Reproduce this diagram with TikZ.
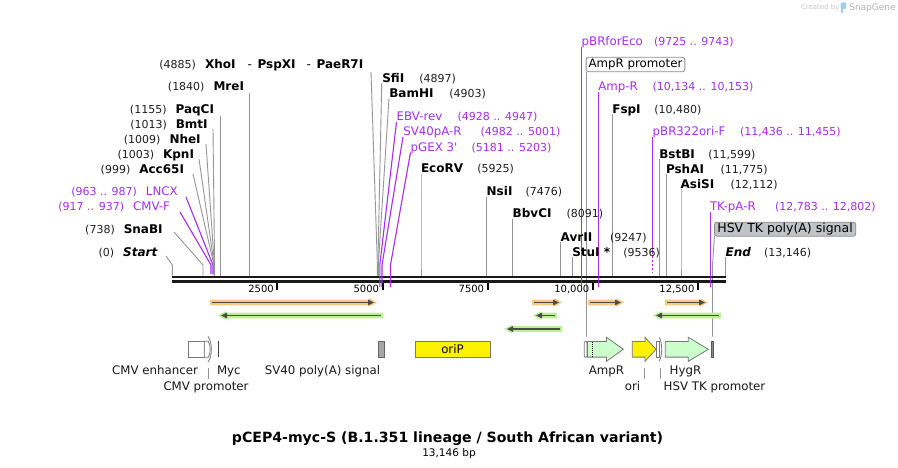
\documentclass[tikz,border=0pt]{standalone}
\usepackage{fontspec}
\setmainfont{DejaVu Sans}
\usetikzlibrary{arrows.meta}
\definecolor{prim}{RGB}{165,45,245}
\definecolor{lgray}{RGB}{150,150,150}
\definecolor{orangeH}{RGB}{250,200,125}
\definecolor{greenH}{RGB}{185,242,150}
\definecolor{darkA}{RGB}{75,75,75}
\definecolor{featG}{RGB}{204,255,204}
\definecolor{polyG}{RGB}{192,195,199}
\definecolor{bordG}{RGB}{120,120,120}
\definecolor{sgGray}{RGB}{200,200,200}
\definecolor{sgBlue}{RGB}{160,205,240}
\newcommand\fN{\fontsize{11}{13}\selectfont}
\newcommand\fE{\fontsize{12}{14}\selectfont\bfseries}
\newcommand\fP{\fontsize{11.8}{14}\selectfont}
\newcommand\sqt{\XeTeXglyph\XeTeXglyphindex "quotesingle"\relax}
\newcommand\mkLd[6]{\coordinate (#1t) at (#3,#4); \coordinate (#1k) at (#5,265); \coordinate (#1e) at (#5,#6); \draw[#2] (#1t) -- (#1k) -- (#1e);}
\newcommand\mkLl[7]{\node[#6, anchor=base east] (#1) at (#4,#5) {#3}; \node[#7, anchor=base east] (#1n) at ([xshift=-9pt]#1.base west) {#2};}
\newcommand\mkRl[8]{\node[#7, anchor=base west] (#1) at (#3,#4) {#2}; \node[#8, anchor=base west] (#1n) at (#6,#4) {#5};}
\newcommand\mkOrf[6]{\coordinate (#1a) at (#3,#5); \coordinate (#1b) at (#4,#5);
  \fill[#2] ({#3},{#5-2.8}) -- ({#4-#6*5},{#5-2.8}) -- ({#4-#6*5},{#5-4.3}) -- ({#4+#6*3},#5) -- ({#4-#6*5},{#5+4.3}) -- ({#4-#6*5},{#5+2.8}) -- ({#3},{#5+2.8}) -- cycle;
  \draw[darkA, line width=1.6pt, -{Triangle[length=6pt,width=5.5pt]}] ([xshift=#6*2pt]#1a) -- (#1b);}
\begin{document}
\begin{tikzpicture}[x=1pt,y=-1pt,
  lbl/.style={inner sep=0pt, outer sep=0pt},
  num/.style={lbl, font=\fN, text=black!88},
  enz/.style={lbl, font=\fE, text=black},
  enzi/.style={lbl, font=\fE\itshape, text=black},
  pri/.style={lbl, font=\fP, text=prim},
  pnum/.style={lbl, font=\fN, text=prim},
  flab/.style={lbl, font=\fP, text=black!90},
  lead/.style={draw=lgray, line width=0.9pt},
  plead/.style={draw=prim, line width=1.1pt},
  feat/.style={draw=bordG, line width=0.8pt},
  ticklab/.style={lbl, font=\fontsize{10}{12}\selectfont, anchor=base east}]
\useasboundingbox (0,0) rectangle (898,468);
\fill[white] (0,0) rectangle (898,468);

% ---- gray leaders ----
\mkLd{ldStart}{lead}{166}{256}{172.3}{275.5}
\mkLd{ldSna}{lead}{174}{232}{203}{275.5}
\mkLd{ldAcc}{lead}{193}{174}{214}{275.5}
\mkLd{ldKpn}{lead}{199}{159}{214.2}{275.5}
\mkLd{ldNhe}{lead}{206}{144}{214.4}{275.5}
\mkLd{ldBmt}{lead}{213}{129}{214.6}{275.5}
\mkLd{ldPaq}{lead}{220.6}{116}{220.6}{275.5}
\mkLd{ldMre}{lead}{249.4}{93}{249.4}{275.5}
\mkLd{ldXho}{lead}{371}{72}{377.4}{275.5}
\mkLd{ldSfi}{lead}{381.7}{83.5}{377.9}{275.5}
\mkLd{ldBam}{lead}{389}{98.5}{378.3}{275.5}
\mkLd{ldEco}{lead}{421}{174}{421}{275.5}
\mkLd{ldNsi}{lead}{486.7}{197}{486.7}{275.5}
\mkLd{ldBbv}{lead}{512.7}{219}{512.7}{275.5}
\mkLd{ldAvr}{lead}{560.8}{242}{560.8}{275.5}
\mkLd{ldStu}{lead}{572.5}{257}{572.5}{275.5}
\mkLd{ldFsp}{lead}{612.5}{114}{612.5}{275.5}
\mkLd{ldBst}{lead}{659.5}{159}{659.5}{275.5}
\mkLd{ldPsh}{lead}{666.5}{174}{666.5}{275.5}
\mkLd{ldAsi}{lead}{681}{189}{681}{275.5}
\mkLd{ldEnd}{lead}{725.7}{257}{725.7}{275.5}
% callout leaders
\coordinate (ampPt) at (586.7,71.7);
\coordinate (ampPb) at (586.7,336.7);
\draw[lead] (ampPt) -- (ampPb);
\coordinate (hsvAt) at (714.5,236);
\coordinate (hsvAk) at (712.5,265);
\coordinate (hsvAb) at (712.5,336.7);
\draw[lead] (hsvAt) -- (hsvAk) -- (hsvAb);
% feature label leaders
\coordinate (cmvPt) at (208.3,368); \coordinate (cmvPb) at (208.3,379.3);
\draw[draw=lgray, line width=0.8pt] (cmvPt) -- (cmvPb);
\coordinate (oriLt) at (644.3,368); \coordinate (oriLb) at (644.3,379.3);
\draw[draw=lgray, line width=0.8pt] (oriLt) -- (oriLb);
\coordinate (hsvPt) at (660.7,368); \coordinate (hsvPb) at (660.7,379.3);
\draw[draw=lgray, line width=0.8pt] (hsvPt) -- (hsvPb);

% ---- backbone ----
\coordinate (bbL1) at (172.3,277); \coordinate (bbR1) at (725.7,277);
\coordinate (bbL2) at (172.3,281.5); \coordinate (bbR2) at (725.7,281.5);
\draw[line width=2.7pt, black!90] (bbL1) -- (bbR1);
\draw[line width=2.3pt, black!90] (bbL2) -- (bbR2);

% ---- purple primer leaders ----
\mkLd{ldCmvf}{plead}{180}{212}{211}{274}
\mkLd{ldLncx}{plead}{186}{197}{213}{274}
\mkLd{ldEbv}{plead}{396.5}{122}{379.8}{287}
\mkLd{ldSv}{plead}{403}{137}{382}{287}
\mkLd{ldGex}{plead}{410.5}{152.5}{390.5}{287}
\mkLd{ldPbr}{plead}{581.5}{47}{581.5}{287}
\mkLd{ldAmpr}{plead}{598.5}{92}{598.5}{287}
\mkLd{ldTk}{plead}{710.5}{212}{710.5}{287}
\coordinate (oriFt) at (652.6,137); \coordinate (oriFk) at (652.6,252); \coordinate (oriFe) at (652.6,273);
\draw[plead] (oriFt) -- (oriFk);
\draw[plead, dash pattern=on 2pt off 2pt] (oriFk) -- (oriFe);

% ---- ticks ----
\foreach \tx/\tl [count=\i] in {277.3/2500, 382.5/5000, 487.6/7500, 592.8/{10,000}, 697.9/{12,500}}{
  \coordinate (tk\i a) at (\tx,283); \coordinate (tk\i b) at (\tx,290);
  \draw[line width=2pt, black] (tk\i a) -- (tk\i b);
  \node[ticklab] (tkl\i) at (\tx-3.5,292.7) {\tl};
}

% ---- ORF arrows ----
\mkOrf{o1}{orangeH}{210}{374}{302.5}{1}
\mkOrf{g1}{greenH}{383}{221}{315.5}{-1}
\mkOrf{g2}{greenH}{562}{507}{329}{-1}
\mkOrf{o2}{orangeH}{532}{559}{302.5}{1}
\mkOrf{g3}{greenH}{557}{536}{315.5}{-1}
\mkOrf{o3}{orangeH}{588}{621}{302.5}{1}
\mkOrf{o4}{orangeH}{665}{705}{302.5}{1}
\mkOrf{g4}{greenH}{721}{656}{315.5}{-1}

% ---- features ----
\draw[feat, fill=white] (188.3,341.3) rectangle (204.3,357.3);
\draw[feat, fill=white] (204.3,341.3) -- (208.3,341.3) .. controls (210.8,345) and (210.8,353.6) .. (208.3,357.3) -- (204.3,357.3) -- cycle;
\draw[feat] (208,336.5) .. controls (212.5,342) and (212.5,356.5) .. (208,362);
\draw[line width=1.6pt, black!75] (218.3,340.7) -- (218.3,356.7);
\draw[draw=black!60, line width=0.8pt, fill=black!35] (378,341.3) rectangle (384,357.3);
\node[draw=bordG, line width=0.8pt, fill=yellow, minimum width=75pt, minimum height=16pt, inner sep=0pt, font=\fP] (oriP) at (452.5,349.3) {oriP};
% AmpR promoter
\draw[feat, fill=white, rounded corners=1pt] (584.3,341.3) rectangle (587,357.3);
% AmpR
\draw[feat, fill=featG] (587.5,341.5) -- (606.5,341.5) -- (606.5,337.3) -- (623.3,349.3) -- (606.5,361.3) -- (606.5,357.1) -- (587.5,357.1) -- cycle;
\draw[black, line width=0.8pt, dash pattern=on 1pt off 1pt] (592.7,342) -- (592.7,356.6);
% ori
\draw[feat, fill=yellow] (632.3,341.5) -- (645,341.5) -- (645,337.3) -- (656,349.3) -- (645,361.3) -- (645,357.1) -- (632.3,357.1) -- cycle;
% HSV TK promoter
\draw[feat, fill=white] (656.8,341.3) rectangle (659.6,357.3);
\draw[feat] (659.3,337.5) .. controls (662.5,343) and (662.5,355.5) .. (659.3,361);
% HygR
\draw[feat, fill=featG] (665.3,341.5) -- (688.3,341.5) -- (688.3,337.3) -- (708.3,349.3) -- (688.3,361.3) -- (688.3,357.1) -- (665.3,357.1) -- cycle;
% HSV TK poly(A)
\draw[draw=black!65, line width=0.8pt, fill=black!45] (711.2,341) rectangle (713.6,357.3);

% ---- feature labels ----
\node[flab, anchor=base] (lCmvE) at (155,374.6) {CMV enhancer};
\node[flab, anchor=base west] (lMyc) at (217,374.6) {Myc};
\node[flab, anchor=base] (lCmvP) at (206,390) {CMV promoter};
\node[flab, anchor=base] (lSv40) at (322.5,374.6) {SV40 poly(A) signal};
\node[flab, anchor=base] (lAmpR) at (606.5,374.6) {AmpR};
\node[flab, anchor=base] (lOri) at (632.5,390) {ori};
\node[flab, anchor=base] (lHyg) at (685.5,374.6) {HygR};
\node[flab, anchor=base] (lHsvP) at (714.5,390) {HSV TK promoter};

% ---- callout boxes ----
\node[draw=black!45, line width=0.8pt, fill=white, rounded corners=2.5pt, inner xsep=2.5pt, inner ysep=0pt, minimum height=14.5pt, anchor=west, font=\fP] (bAmpP) at (585.7,64.5) {AmpR promoter};
\node[draw=black!45, line width=0.8pt, fill=polyG, rounded corners=2.5pt, inner xsep=3pt, inner ysep=0pt, minimum height=14pt, anchor=west, font=\fontsize{12.5}{14}\selectfont] (bHsvA) at (714,229.2) {HSV TK poly(A) signal};

% ---- left cluster labels ----
\node[num, anchor=base east] (nXho) at (196,68.3) {(4885)};
\node[enz, anchor=base west] (eXho) at (205,68.3) {XhoI};
\node[enz, anchor=base west] (ePsp) at (247.7,68.3) {{\mdseries -}\hspace{5.5pt}PspXI};
\node[enz, anchor=base west] (ePae) at (306.7,68.3) {{\mdseries -}\hspace{5.5pt}PaeR7I};
\mkLl{eMre}{(1840)}{MreI}{244}{91}{enz}{num}
\mkLl{ePaq}{(1155)}{PaqCI}{214}{113.3}{enz}{num}
\mkLl{eBmt}{(1013)}{BmtI}{207.7}{128.3}{enz}{num}
\mkLl{eNhe}{(1009)}{NheI}{200.7}{143.3}{enz}{num}
\mkLl{eKpn}{(1003)}{KpnI}{194}{158.3}{enz}{num}
\mkLl{eAcc}{(999)}{Acc65I}{184}{173.3}{enz}{num}
\mkLl{pLncx}{(963 .. 987)}{LNCX}{177.7}{196}{pri}{pnum}
\mkLl{pCmvf}{(917 .. 937)}{CMV-F}{170}{211}{pri}{pnum}
\mkLl{eSna}{(738)}{SnaBI}{162.7}{233.3}{enz}{num}
\mkLl{eStart}{(0)}{Start}{157.3}{256}{enzi}{num}

% ---- middle labels ----
\mkRl{eSfi}{SfiI}{382.3}{82.6}{(4897)}{419.3}{enz}{num}
\mkRl{eBam}{BamHI}{389.3}{97.6}{(4903)}{449.3}{enz}{num}
\mkRl{pEbv}{EBV-rev}{396.7}{121}{(4928 .. 4947)}{457.7}{pri}{pnum}
\mkRl{pSv}{SV40pA-R}{403.3}{136}{(4982 .. 5001)}{480.7}{pri}{pnum}
\mkRl{pGex}{pGEX 3\sqt}{410.7}{151.6}{(5181 .. 5203)}{471.7}{pri}{pnum}
\mkRl{eEco}{EcoRV}{421}{172.6}{(5925)}{477.3}{enz}{num}
\mkRl{eNsi}{NsiI}{486.7}{196}{(7476)}{525.7}{enz}{num}
\mkRl{eBbv}{BbvCI}{512.7}{217.6}{(8091)}{566.7}{enz}{num}
\mkRl{eAvr}{AvrII}{560.7}{241}{(9247)}{610}{enz}{num}
\mkRl{eStu}{StuI *}{572.3}{256}{(9536)}{623.3}{enz}{num}

% ---- right labels ----
\mkRl{pPbr}{pBRforEco}{581.7}{46}{(9725 .. 9743)}{654}{pri}{pnum}
\mkRl{pAmp}{Amp-R}{598.3}{91}{(10,134 .. 10,153)}{652.7}{pri}{pnum}
\mkRl{eFsp}{FspI}{612.3}{113.3}{(10,480)}{654.3}{enz}{num}
\mkRl{pOriF}{pBR322ori-F}{652.7}{136}{(11,436 .. 11,455)}{740}{pri}{pnum}
\mkRl{eBst}{BstBI}{659.3}{158.3}{(11,599)}{708.3}{enz}{num}
\mkRl{ePsh}{PshAI}{666}{173.3}{(11,775)}{720.7}{enz}{num}
\mkRl{eAsi}{AsiSI}{680.7}{188.3}{(12,112)}{730.7}{enz}{num}
\mkRl{pTk}{TK-pA-R}{710}{211}{(12,783 .. 12,802)}{775}{pri}{pnum}
\mkRl{eEnd}{End}{725.7}{256}{(13,146)}{764}{enzi}{num}

% ---- title ----
\node[lbl, anchor=base, font=\fontsize{14.1}{16}\selectfont\bfseries] (title) at (447.5,442.6) {pCEP4-myc-S (B.1.351 lineage / South African variant)};
\node[lbl, anchor=base, font=\fontsize{10.5}{12}\selectfont] (bp) at (449,456.8) {13,146 bp};

% ---- credit ----
\node[lbl, anchor=base west, font=\fontsize{7}{8}\selectfont, text=sgGray] (cred) at (801,10) {Created by};
\fill[sgBlue, rounded corners=1pt] (840.5,2.5) rectangle (846,9) ;
\fill[sgBlue] (840.5,8) rectangle (843,13.5);
\node[lbl, anchor=base west, font=\fontsize{9}{10}\selectfont, text=sgGray!90!black] (sg) at (849.3,10.8) {SnapGene};
\end{tikzpicture}
\end{document}
